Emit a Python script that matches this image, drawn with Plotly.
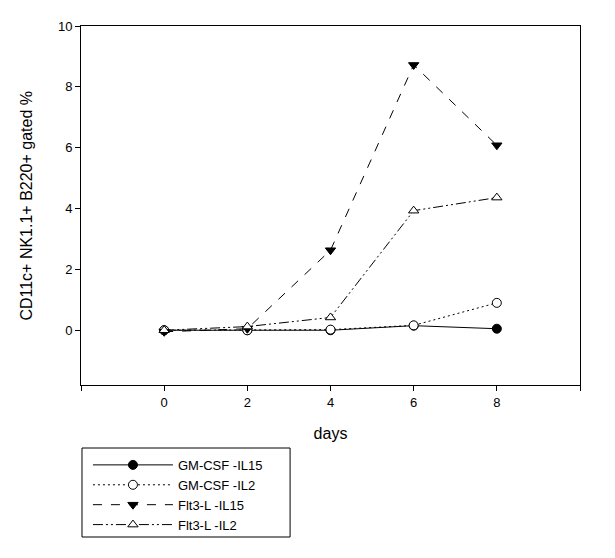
import plotly.graph_objects as go

days = [0, 2, 4, 6, 8]
gm_il15 = [0.0, 0.0, 0.0, 0.15, 0.05]
gm_il2 = [0.0, 0.0, 0.02, 0.16, 0.9]
flt_il15 = [-0.05, 0.05, 2.63, 8.72, 6.08]
flt_il2 = [0.0, 0.12, 0.42, 3.93, 4.36]

series = [
    ("GM-CSF -IL15", gm_il15, "solid", "circle", "black"),
    ("GM-CSF -IL2", gm_il2, "2px,3px", "circle", "white"),
    ("Flt3-L -IL15", flt_il15, "dash", "triangle-down", "black"),
    ("Flt3-L -IL2", flt_il2, "10px,3px,2px,3px,2px,3px", "triangle-up", "white"),
]

fig = go.Figure()
for name, vals, dash, sym, fill in series:
    fig.add_trace(go.Scatter(
        x=days, y=vals, name=name, mode="lines+markers",
        line=dict(color="black", width=1, dash=dash),
        marker=dict(symbol=sym, size=9, color=fill, line=dict(color="black", width=1)),
    ))

# page body adds an 8px offset, so margins are shifted by that amount
fig.update_layout(
    width=615, height=558,
    margin=dict(l=73, r=43, t=18, b=181, autoexpand=False),
    paper_bgcolor="white", plot_bgcolor="white",
    font=dict(family="Liberation Sans, Arial", size=13, color="black"),
    showlegend=True,
    legend=dict(
        xref="container", yref="container",
        x=0.13, xanchor="left", y=0.208, yanchor="top",
        borderwidth=0, bgcolor="rgba(0,0,0,0)",
        font=dict(size=13), tracegroupgap=0,
        itemwidth=80,
    ),
)
# legend frame
fig.add_shape(type="rect", xref="paper", yref="paper",
              x0=0.002, x1=0.419, y0=-0.1755, y1=-0.4234,
              line=dict(color="black", width=1))
# y axis title
fig.add_annotation(text="CD11c+ NK1.1+ B220+ gated %", xref="paper", yref="paper",
                   x=-0.11, y=0.5, textangle=-90, showarrow=False,
                   xanchor="center", yanchor="middle", font=dict(size=16))
fig.update_xaxes(
    range=[-2, 10], tickvals=[-2, 0, 2, 4, 6, 8, 10],
    ticktext=["", "0", "2", "4", "6", "8", ""],
    ticks="outside", ticklen=5, tickcolor="black",
    showline=True, linecolor="black", linewidth=1, mirror=True,
    showgrid=False, zeroline=False,
    title=dict(text="days", font=dict(size=16), standoff=19),
)
fig.update_yaxes(
    range=[-1.8, 10], tickvals=[0, 2, 4, 6, 8, 10],
    ticks="outside", ticklen=5, tickcolor="black",
    showline=True, linecolor="black", linewidth=1, mirror=True,
    showgrid=False, zeroline=False,
)

fig.write_html("out.html")
